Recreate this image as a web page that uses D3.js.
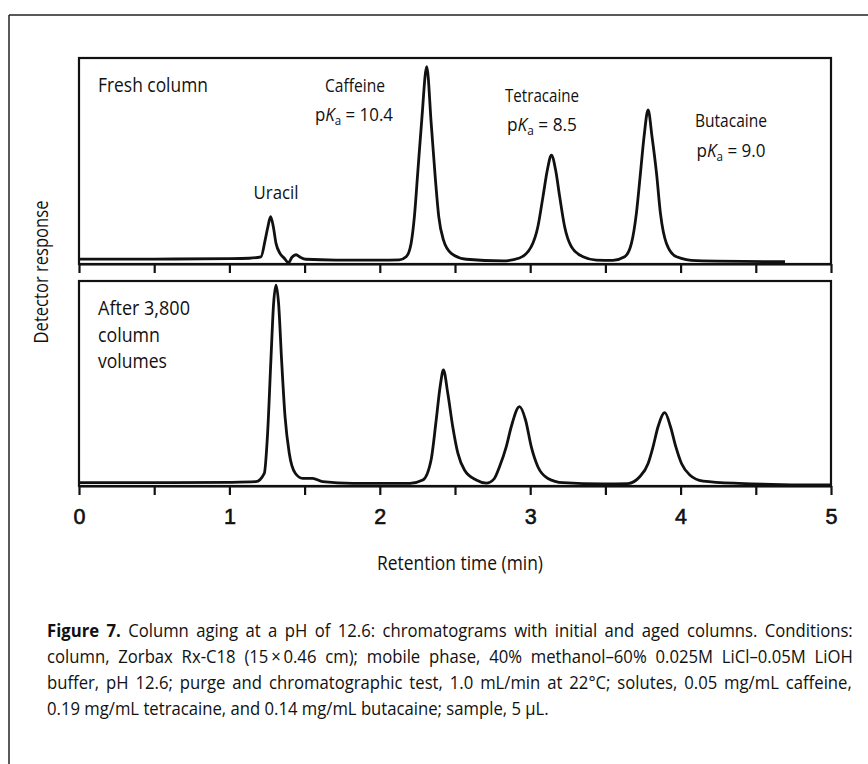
<!DOCTYPE html>
<html><head><meta charset="utf-8">
<script src="https://cdn.jsdelivr.net/npm/d3@7"></script>
<style>body{margin:0;background:#fff} svg{display:block}</style>
</head><body>
<svg id="chart" width="868" height="764"></svg>
<script>
// ---------- data ----------
const timeTicks  = [0, 0.5, 1, 1.5, 2, 2.5, 3, 3.5, 4, 4.5, 5];
const tickLabels = ["0", "", "1", "", "2", "", "3", "", "4", "", "5"];

// Fresh column chromatogram: retention time (min) and detector response (% of panel)
const freshTime = [0, 0.5, 1.0, 1.132, 1.21, 1.238, 1.256, 1.274, 1.292, 1.31, 1.336, 1.365, 1.392, 1.416, 1.443, 1.471, 1.509, 1.709, 2.0, 2.13,
  2.175, 2.208, 2.23, 2.252, 2.279, 2.312, 2.342, 2.37, 2.392, 2.423, 2.475, 2.575, 2.818,
  2.929, 3.007, 3.051, 3.085, 3.114, 3.141, 3.169, 3.196, 3.229, 3.274, 3.351, 3.44, 3.55,
  3.628, 3.673, 3.706, 3.733, 3.757, 3.784, 3.81, 3.84, 3.866, 3.906, 3.973, 4.106, 4.694];
const freshResp = [2.4, 2.4, 2.6, 2.8, 3.5, 11.7, 18.1, 23.0, 18.1, 10.0, 5.2, 2.8, 0.6, 3.3, 4.5, 3.3, 2.3, 1.9, 1.9, 2.0,
  3.5, 10.0, 23.0, 44.0, 70.0, 95.8, 68.0, 40.8, 23.0, 11.7, 5.2, 2.3, 1.5,
  2.9, 8.4, 18.1, 32.7, 45.6, 52.9, 45.6, 32.7, 18.1, 8.4, 3.5, 1.9, 1.8,
  3.5, 10.0, 24.6, 44.0, 61.8, 74.8, 61.8, 44.0, 24.6, 10.0, 3.5, 1.6, 1.1];

// After 3,800 column volumes
const agedTime = [0, 0.6, 1.0, 1.176, 1.232, 1.254, 1.276, 1.294, 1.31, 1.327, 1.347, 1.37, 1.398, 1.438, 1.487, 1.553, 1.62, 1.82, 2.2,
  2.286, 2.341, 2.375, 2.401, 2.423, 2.452, 2.485, 2.519, 2.563, 2.641, 2.708,
  2.76, 2.796, 2.841, 2.874, 2.929, 2.969, 3.007, 3.051, 3.118, 3.218, 3.484, 3.65,
  3.728, 3.784, 3.817, 3.85, 3.895, 3.933, 3.968, 4.006, 4.061, 4.15, 4.386, 4.937, 5.0];
const agedResp = [1.6, 1.6, 1.8, 2.1, 6.2, 25.7, 61.5, 89.1, 98.0, 89.1, 61.5, 33.8, 16.0, 6.2, 3.7, 3.7, 2.1, 1.3, 1.3,
  2.9, 12.7, 32.2, 48.4, 56.6, 45.2, 28.9, 16.0, 7.8, 2.9, 1.4,
  3.5, 9.4, 19.2, 28.9, 38.7, 32.2, 19.2, 9.4, 3.7, 1.6, 1.0, 1.2,
  4.5, 11.0, 19.2, 28.9, 35.8, 28.9, 19.2, 11.0, 5.4, 2.4, 1.3, 0.5, 0.5];

const panelTitles = ["Fresh column", "After 3,800 column volumes"];
const peakNames = ["Uracil", "Caffeine", "Tetracaine", "Butacaine"];
const peakPKa   = ["", "10.4", "8.5", "9.0"];
const xTitle = "Retention time (min)";
const yTitle = "Detector response";
const captionLines = [
  ["Figure 7.", " Column aging at a pH of 12.6: chromatograms with initial and aged columns. Conditions:"],
  ["", "column, Zorbax Rx-C18 (15\u2009\u00d7\u20090.46 cm); mobile phase, 40% methanol\u201360% 0.025M LiCl\u20130.05M LiOH"],
  ["", "buffer, pH 12.6; purge and chromatographic test, 1.0 mL/min at 22\u00b0C; solutes, 0.05 mg/mL caffeine,"],
  ["", "0.19 mg/mL tetracaine, and 0.14 mg/mL butacaine; sample, 5 \u00b5L."]
];

// ---------- drawing ----------
const svg = d3.select("#chart");
const FONT = "'Open Sans', 'Noto Sans', sans-serif";
const INK = "#111";
const L = 79, R = 831;
const x = d3.scaleLinear().domain([0, 5]).range([L, R]);
const panels = [
  {top: 58, bottom: 264, time: freshTime, resp: freshResp},
  {top: 281, bottom: 486, time: agedTime, resp: agedResp}
];

// squeeze a text horizontally so that it spans `width` px (condensed face look-alike)
function fit(sel, xp, yp, width, extra = "") {
  const nat = sel.node().getComputedTextLength();
  const k = width ? width / nat : 1;
  sel.attr("x", 0).attr("y", 0)
    .attr("transform", `translate(${xp},${yp}) ${extra} scale(${k},1)`);
  return k;
}

// outer frame (top and left rules)
svg.append("line").attr("x1", 9).attr("x2", 868).attr("y1", 15).attr("y2", 15)
  .attr("stroke", "#222").attr("stroke-width", 1.5);
svg.append("line").attr("x1", 9).attr("x2", 9).attr("y1", 15).attr("y2", 764)
  .attr("stroke", "#222").attr("stroke-width", 1.5);

panels.forEach((p, pi) => {
  const y = d3.scaleLinear().domain([0, 100]).range([p.bottom, p.top]);
  svg.append("rect").attr("x", L).attr("y", p.top).attr("width", R - L).attr("height", p.bottom - p.top)
    .attr("fill", "none").attr("stroke", INK).attr("stroke-width", 2.2);
  const ax = d3.axisBottom(x).tickValues(timeTicks).tickSize(9).tickSizeOuter(0).tickPadding(14)
    .tickFormat((d, i) => pi === 1 ? tickLabels[i] : "");
  const g = svg.append("g").attr("transform", `translate(0,${p.bottom})`).call(ax);
  g.select(".domain").attr("stroke", INK).attr("stroke-width", 2.2);
  g.selectAll(".tick line").attr("stroke", INK).attr("stroke-width", 2.2);
  g.selectAll(".tick text").attr("font-family", "'Liberation Sans', Arial, sans-serif")
    .attr("font-size", 21.5).attr("fill", INK).attr("stroke", INK).attr("stroke-width", 0.6);
  const pts = p.time.map((t, i) => [t, p.resp[i]]);
  const line = d3.line().x(d => x(d[0])).y(d => y(d[1])).curve(d3.curveMonotoneX);
  svg.append("path").datum(pts).attr("d", line).attr("fill", "none")
    .attr("stroke", INK).attr("stroke-width", 2.8).attr("stroke-linejoin", "round");
});

function label(xp, yp, txt, len, anchor = "middle", size = 19) {
  const t = svg.append("text").attr("text-anchor", anchor)
    .attr("font-family", FONT).attr("font-size", size).attr("fill", INK).text(txt);
  fit(t, xp, yp, len);
  return t;
}
function pka(xp, yp, val, len) {
  const t = svg.append("text").attr("text-anchor", "middle")
    .attr("font-family", FONT).attr("font-size", 19).attr("fill", INK);
  t.append("tspan").text("p");
  t.append("tspan").attr("font-style", "italic").text("K");
  t.append("tspan").attr("font-size", 13).attr("dy", 4).text("a");
  t.append("tspan").attr("dy", -4).text(" = " + val);
  fit(t, xp, yp, len);
}

// panel titles
label(98, 92, panelTitles[0], 110, "start", 20.5);
const agedWords = ["After 3,800", "column", "volumes"];
const agedLens = [92, 62, 69];
agedWords.forEach((w, i) => label(98, 315 + i * 26.5, w, agedLens[i], "start", 20.5));

// peak annotations
label(276, 199, peakNames[0], 45);
label(355, 92, peakNames[1], 60);
pka(354, 121, peakPKa[1], 78);
label(542, 102, peakNames[2], 74);
pka(542, 131, peakPKa[2], 70);
label(731, 127, peakNames[3], 72);
pka(731, 157, peakPKa[3], 69);

// axis titles
label(460, 570, xTitle, 166, "middle", 20);
const yt = svg.append("text").attr("text-anchor", "middle")
  .attr("font-family", FONT).attr("font-size", 20).attr("fill", INK).text(yTitle);
fit(yt, 48, 272, 143, "rotate(-90)");

// caption: one common squeeze, lines 1-3 justified with a little word spacing
const capLens = [806, 806, 805, 473];
const capTexts = captionLines.map(ln => {
  const t = svg.append("text").attr("font-family", FONT).attr("font-size", 18.5).attr("fill", INK);
  if (ln[0]) t.append("tspan").attr("font-weight", "bold").text(ln[0]);
  t.append("tspan").text(ln[1]);
  return t;
});
const nats = capTexts.map(t => t.node().getComputedTextLength());
const kLast = capLens[3] / nats[3];
const kFull = d3.mean([0, 1, 2], i => capLens[i] / nats[i]);
const kCap = (kLast + kFull) / 2;
capTexts.forEach((t, i) => {
  if (i < 3) {
    const spaces = (captionLines[i][0] + captionLines[i][1]).split(" ").length - 1;
    const ws = (capLens[i] / kCap - nats[i]) / spaces;
    t.style("word-spacing", ws + "px");
  }
  t.attr("x", 0).attr("y", 0)
    .attr("transform", `translate(47,${637 + i * 26}) scale(${kCap},1)`);
});
</script>
</body></html>
